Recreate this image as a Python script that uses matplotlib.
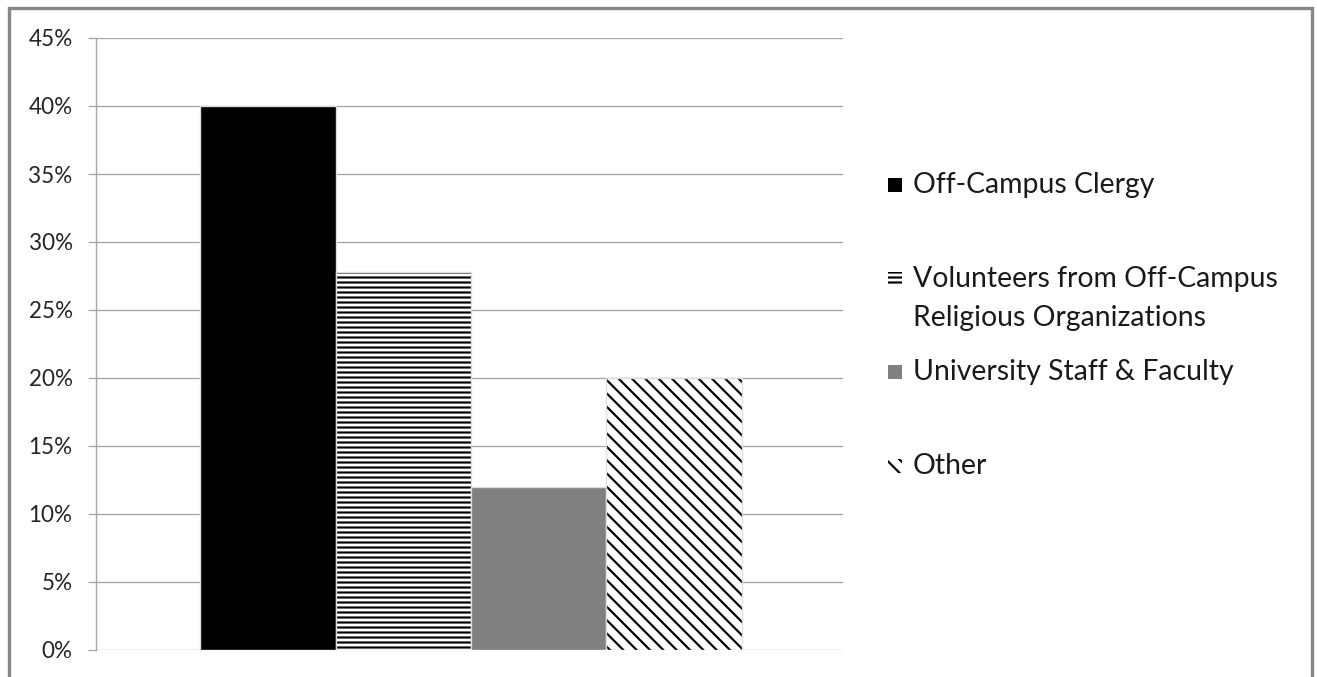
"""bar chart: who leads campus religious activities"""
import matplotlib.pyplot as plt
from matplotlib.patches import Rectangle
from matplotlib.ticker import PercentFormatter

W, H, DPI = 1317, 677, 120

categories = ['Off-Campus Clergy',
              'Volunteers from Off-Campus\nReligious Organizations',
              'University Staff & Faculty',
              'Other']
shares = [0.40, 0.278, 0.12, 0.20]
y_ticks = [0.0, 0.05, 0.10, 0.15, 0.20, 0.25, 0.30, 0.35, 0.40, 0.45]

fills = ['black', 'white', '#808080', 'white']
hatches = [None, '----', None, '\\\\\\']

plt.rcParams['font.family'] = ['Lato', 'DejaVu Sans']
plt.rcParams['hatch.linewidth'] = 1.3

fig = plt.figure(figsize=(W / DPI, H / DPI), dpi=DPI)


def px(x, y):
    """pixel position (from top left) -> figure fraction"""
    return x / W, 1 - y / H


# outer frame of the chart
fig.add_artist(Rectangle(px(9, 700), 1303 / W, 692 / H, transform=fig.transFigure,
                         fill=False, edgecolor='#878787', linewidth=2))

ax = fig.add_axes([96 / W, 1 - 650 / H, (843 - 96) / W, (650 - 38) / H])
ax.set_ylim(0, 0.45)
ax.set_xlim(-1.27, 4.25)
ax.set_yticks(y_ticks)
ax.yaxis.set_major_formatter(PercentFormatter(1.0, decimals=0))
ax.set_xticks([])
ax.grid(axis='y', color='#a6a6a6', linewidth=0.8)
ax.set_axisbelow(True)
for side in ['top', 'right', 'bottom']:
    ax.spines[side].set_visible(False)
ax.spines['left'].set_color('#a6a6a6')
ax.spines['left'].set_linewidth(0.8)
ax.tick_params(axis='y', length=5, width=0.8, color='#a6a6a6', pad=9,
               labelsize=13.5, labelcolor='#262626')

# hatch takes the edge colour, so fill+hatch first, then a soft outline on top
for i, val in enumerate(shares):
    ax.bar(i, val, width=1.0, color=fills[i], hatch=hatches[i],
           edgecolor='black', linewidth=0)
    ax.bar(i, val, width=1.0, fill=False, edgecolor='#dddddd', linewidth=0.8)

# legend drawn entry by entry, Excel style spacing
baselines = [193, 287, 380, 474]
line_gap = 39
for i, label in enumerate(categories):
    y0 = baselines[i]
    fig.add_artist(Rectangle(px(888, y0 - 1), 14 / W, 14 / H, transform=fig.transFigure,
                             facecolor=fills[i], hatch=hatches[i], edgecolor='black',
                             linewidth=0))
    for k, line in enumerate(label.split('\n')):
        x, y = px(913, y0 + k * line_gap)
        fig.text(x, y, line, fontsize=17, color='#1a1a1a', va='baseline', ha='left')

fig.savefig('out.png', dpi=DPI)
